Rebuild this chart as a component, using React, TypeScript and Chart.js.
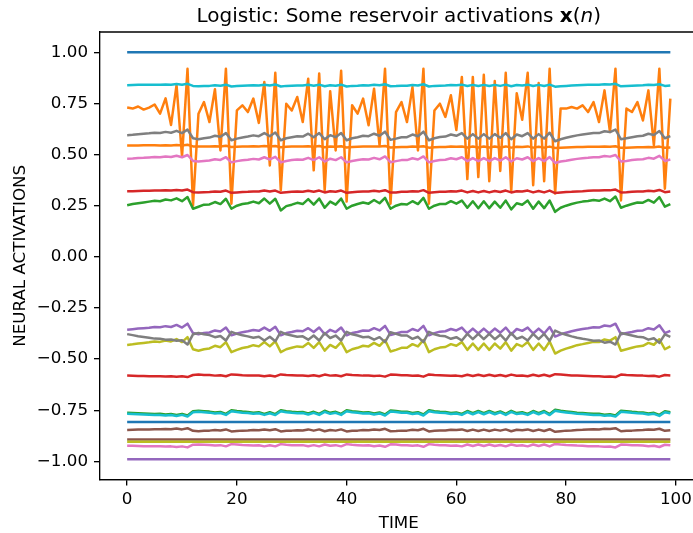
import React, { useEffect, useRef } from "react";
import { Chart, registerables } from "chart.js";
Chart.register(...registerables);

const TIME = [
  0, 1, 2, 3, 4, 5, 6, 7, 8, 9, 10, 11, 12, 13, 14, 15, 16, 17, 18, 19,
  20, 21, 22, 23, 24, 25, 26, 27, 28, 29, 30, 31, 32, 33, 34, 35, 36, 37, 38, 39,
  40, 41, 42, 43, 44, 45, 46, 47, 48, 49, 50, 51, 52, 53, 54, 55, 56, 57, 58, 59,
  60, 61, 62, 63, 64, 65, 66, 67, 68, 69, 70, 71, 72, 73, 74, 75, 76, 77, 78, 79,
  80, 81, 82, 83, 84, 85, 86, 87, 88, 89, 90, 91, 92, 93, 94, 95, 96, 97, 98, 99,
];
const X_TICKS = [0, 20, 40, 60, 80, 100];
const Y_TICKS = [-1.0, -0.75, -0.5, -0.25, 0.0, 0.25, 0.5, 0.75, 1.0];

const B1 = [
  1, 1, 1, 1, 1, 1, 1, 1, 1, 1, 1, 1, 1, 1, 1, 1, 1, 1, 1, 1,
  1, 1, 1, 1, 1, 1, 1, 1, 1, 1, 1, 1, 1, 1, 1, 1, 1, 1, 1, 1,
  1, 1, 1, 1, 1, 1, 1, 1, 1, 1, 1, 1, 1, 1, 1, 1, 1, 1, 1, 1,
  1, 1, 1, 1, 1, 1, 1, 1, 1, 1, 1, 1, 1, 1, 1, 1, 1, 1, 1, 1,
  1, 1, 1, 1, 1, 1, 1, 1, 1, 1, 1, 1, 1, 1, 1, 1, 1, 1, 1, 1,
];
const O1 = [
  0.73, 0.725, 0.735, 0.72, 0.73, 0.745, 0.7, 0.775, 0.645, 0.84,
  0.49, 0.92, 0.25, 0.7, 0.757, 0.659, 0.82, 0.52, 0.92, 0.26,
  0.716, 0.741, 0.708, 0.774, 0.655, 0.855, 0.447, 0.9, 0.325, 0.749,
  0.716, 0.782, 0.659, 0.871, 0.423, 0.896, 0.325, 0.81, 0.52, 0.91,
  0.27, 0.741, 0.7, 0.774, 0.643, 0.822, 0.545, 0.92, 0.26, 0.708,
  0.757, 0.659, 0.83, 0.52, 0.92, 0.26, 0.716, 0.749, 0.684, 0.79,
  0.62, 0.88, 0.38, 0.88, 0.39, 0.89, 0.37, 0.86, 0.42, 0.9,
  0.32, 0.8, 0.67, 0.9, 0.35, 0.85, 0.37, 0.92, 0.31, 0.725,
  0.725, 0.733, 0.725, 0.741, 0.708, 0.757, 0.659, 0.814, 0.61, 0.92,
  0.276, 0.725, 0.708, 0.757, 0.667, 0.814, 0.545, 0.92, 0.333, 0.774,
];
const G1 = [
  0.252, 0.258, 0.262, 0.266, 0.27, 0.274, 0.272, 0.28, 0.276, 0.286,
  0.272, 0.292, 0.235, 0.245, 0.255, 0.256, 0.268, 0.258, 0.284, 0.235,
  0.25, 0.258, 0.262, 0.27, 0.262, 0.285, 0.26, 0.284, 0.227, 0.248,
  0.255, 0.264, 0.258, 0.282, 0.255, 0.285, 0.24, 0.27, 0.255, 0.285,
  0.235, 0.25, 0.258, 0.266, 0.26, 0.278, 0.262, 0.288, 0.235, 0.25,
  0.258, 0.256, 0.272, 0.258, 0.288, 0.235, 0.25, 0.258, 0.258, 0.272,
  0.26, 0.275, 0.24, 0.272, 0.238, 0.272, 0.238, 0.27, 0.24, 0.275,
  0.232, 0.262, 0.255, 0.275, 0.235, 0.27, 0.238, 0.275, 0.22, 0.24,
  0.25, 0.258, 0.265, 0.27, 0.273, 0.278, 0.274, 0.285, 0.272, 0.295,
  0.24, 0.25, 0.258, 0.266, 0.265, 0.278, 0.265, 0.292, 0.245, 0.258,
];
const R1 = [
  0.321, 0.321, 0.322, 0.323, 0.323, 0.324, 0.324, 0.325, 0.324, 0.327,
  0.324, 0.329, 0.316, 0.315, 0.316, 0.317, 0.32, 0.318, 0.324, 0.313,
  0.315, 0.317, 0.318, 0.32, 0.319, 0.324, 0.319, 0.324, 0.313, 0.316,
  0.318, 0.319, 0.318, 0.323, 0.318, 0.324, 0.315, 0.321, 0.318, 0.324,
  0.313, 0.316, 0.318, 0.32, 0.319, 0.323, 0.32, 0.326, 0.314, 0.315,
  0.318, 0.318, 0.321, 0.319, 0.326, 0.313, 0.316, 0.318, 0.318, 0.321,
  0.32, 0.324, 0.315, 0.322, 0.315, 0.322, 0.315, 0.322, 0.317, 0.324,
  0.315, 0.321, 0.319, 0.324, 0.315, 0.322, 0.315, 0.324, 0.312, 0.315,
  0.317, 0.318, 0.32, 0.321, 0.323, 0.324, 0.324, 0.326, 0.325, 0.329,
  0.315, 0.316, 0.318, 0.319, 0.32, 0.323, 0.321, 0.327, 0.316, 0.319,
];
const PU1 = [
  -0.357, -0.354, -0.351, -0.349, -0.347, -0.343, -0.344, -0.339, -0.343, -0.333,
  -0.346, -0.327, -0.373, -0.379, -0.373, -0.37, -0.36, -0.365, -0.346, -0.384,
  -0.375, -0.369, -0.364, -0.358, -0.362, -0.346, -0.362, -0.342, -0.384, -0.373,
  -0.368, -0.362, -0.364, -0.349, -0.368, -0.346, -0.379, -0.357, -0.368, -0.346,
  -0.384, -0.373, -0.368, -0.36, -0.362, -0.349, -0.36, -0.338, -0.382, -0.375,
  -0.368, -0.368, -0.353, -0.362, -0.338, -0.384, -0.373, -0.366, -0.364, -0.353,
  -0.36, -0.346, -0.375, -0.351, -0.375, -0.351, -0.375, -0.351, -0.371, -0.346,
  -0.379, -0.353, -0.362, -0.346, -0.375, -0.351, -0.375, -0.343, -0.39, -0.379,
  -0.371, -0.364, -0.358, -0.353, -0.349, -0.344, -0.346, -0.336, -0.34, -0.327,
  -0.379, -0.373, -0.368, -0.362, -0.36, -0.349, -0.355, -0.335, -0.373, -0.362,
];
const BR1 = [
  -0.847, -0.846, -0.845, -0.844, -0.844, -0.843, -0.843, -0.842, -0.843, -0.84,
  -0.844, -0.838, -0.851, -0.853, -0.851, -0.85, -0.847, -0.849, -0.844, -0.854,
  -0.852, -0.85, -0.849, -0.847, -0.848, -0.844, -0.848, -0.843, -0.854, -0.851,
  -0.85, -0.848, -0.849, -0.844, -0.85, -0.844, -0.853, -0.847, -0.85, -0.844,
  -0.854, -0.851, -0.85, -0.847, -0.848, -0.844, -0.847, -0.841, -0.853, -0.852,
  -0.85, -0.85, -0.846, -0.848, -0.841, -0.854, -0.851, -0.849, -0.849, -0.846,
  -0.847, -0.844, -0.852, -0.845, -0.852, -0.845, -0.852, -0.845, -0.85, -0.844,
  -0.853, -0.846, -0.848, -0.844, -0.852, -0.845, -0.852, -0.843, -0.856, -0.853,
  -0.85, -0.849, -0.847, -0.846, -0.844, -0.843, -0.844, -0.841, -0.842, -0.838,
  -0.853, -0.851, -0.85, -0.848, -0.847, -0.844, -0.846, -0.841, -0.851, -0.848,
];
const P1 = [
  0.48, 0.481, 0.483, 0.484, 0.486, 0.488, 0.487, 0.491, 0.488, 0.494,
  0.487, 0.498, 0.469, 0.466, 0.469, 0.471, 0.477, 0.474, 0.487, 0.462,
  0.468, 0.472, 0.475, 0.479, 0.476, 0.487, 0.476, 0.489, 0.462, 0.469,
  0.473, 0.476, 0.475, 0.484, 0.473, 0.487, 0.466, 0.48, 0.473, 0.487,
  0.462, 0.469, 0.473, 0.477, 0.476, 0.484, 0.477, 0.491, 0.463, 0.468,
  0.473, 0.473, 0.482, 0.476, 0.491, 0.462, 0.469, 0.473, 0.475, 0.482,
  0.477, 0.487, 0.468, 0.483, 0.468, 0.483, 0.468, 0.483, 0.47, 0.487,
  0.466, 0.482, 0.476, 0.487, 0.468, 0.483, 0.468, 0.488, 0.459, 0.466,
  0.47, 0.475, 0.479, 0.482, 0.484, 0.487, 0.487, 0.493, 0.49, 0.498,
  0.466, 0.469, 0.473, 0.476, 0.477, 0.484, 0.48, 0.494, 0.469, 0.476,
];
const GR1 = [
  0.595, 0.597, 0.6, 0.602, 0.604, 0.607, 0.606, 0.611, 0.607, 0.616,
  0.605, 0.622, 0.58, 0.575, 0.58, 0.583, 0.592, 0.587, 0.605, 0.57,
  0.578, 0.584, 0.588, 0.594, 0.59, 0.605, 0.59, 0.608, 0.57, 0.58,
  0.585, 0.59, 0.588, 0.602, 0.585, 0.605, 0.575, 0.595, 0.585, 0.605,
  0.57, 0.58, 0.585, 0.592, 0.59, 0.602, 0.592, 0.612, 0.572, 0.578,
  0.585, 0.585, 0.598, 0.59, 0.612, 0.57, 0.58, 0.586, 0.588, 0.598,
  0.592, 0.605, 0.578, 0.6, 0.578, 0.6, 0.578, 0.6, 0.582, 0.605,
  0.575, 0.598, 0.59, 0.605, 0.578, 0.6, 0.578, 0.607, 0.565, 0.575,
  0.582, 0.588, 0.594, 0.598, 0.602, 0.606, 0.605, 0.614, 0.61, 0.622,
  0.575, 0.58, 0.585, 0.59, 0.592, 0.602, 0.596, 0.615, 0.58, 0.59,
];
const OL1 = [
  -0.431, -0.428, -0.424, -0.421, -0.418, -0.414, -0.416, -0.409, -0.414, -0.402,
  -0.417, -0.393, -0.452, -0.459, -0.452, -0.448, -0.435, -0.442, -0.417, -0.466,
  -0.455, -0.446, -0.441, -0.432, -0.438, -0.417, -0.438, -0.413, -0.466, -0.452,
  -0.445, -0.438, -0.441, -0.421, -0.445, -0.417, -0.459, -0.431, -0.445, -0.417,
  -0.466, -0.452, -0.445, -0.435, -0.438, -0.421, -0.435, -0.407, -0.463, -0.455,
  -0.445, -0.445, -0.427, -0.438, -0.407, -0.466, -0.452, -0.444, -0.441, -0.427,
  -0.435, -0.417, -0.455, -0.424, -0.455, -0.424, -0.455, -0.424, -0.449, -0.417,
  -0.459, -0.427, -0.438, -0.417, -0.455, -0.424, -0.455, -0.414, -0.473, -0.459,
  -0.449, -0.441, -0.432, -0.427, -0.421, -0.416, -0.417, -0.404, -0.41, -0.393,
  -0.459, -0.452, -0.445, -0.438, -0.435, -0.421, -0.43, -0.403, -0.452, -0.438,
];
const C1 = [
  0.839, 0.84, 0.841, 0.841, 0.842, 0.842, 0.842, 0.843, 0.842, 0.845,
  0.842, 0.846, 0.836, 0.834, 0.836, 0.836, 0.839, 0.837, 0.842, 0.833,
  0.835, 0.837, 0.838, 0.839, 0.838, 0.842, 0.838, 0.843, 0.833, 0.836,
  0.837, 0.838, 0.838, 0.841, 0.837, 0.842, 0.834, 0.839, 0.837, 0.842,
  0.833, 0.836, 0.837, 0.839, 0.838, 0.841, 0.839, 0.844, 0.834, 0.835,
  0.837, 0.837, 0.84, 0.838, 0.844, 0.833, 0.836, 0.837, 0.838, 0.84,
  0.839, 0.842, 0.835, 0.841, 0.835, 0.841, 0.835, 0.841, 0.836, 0.842,
  0.834, 0.84, 0.838, 0.842, 0.835, 0.841, 0.835, 0.842, 0.832, 0.834,
  0.836, 0.838, 0.839, 0.84, 0.841, 0.842, 0.842, 0.844, 0.843, 0.846,
  0.834, 0.836, 0.837, 0.838, 0.839, 0.841, 0.84, 0.844, 0.836, 0.838,
];
const B2 = [
  -0.808, -0.808, -0.808, -0.808, -0.808, -0.808, -0.808, -0.808, -0.808, -0.808,
  -0.808, -0.808, -0.808, -0.808, -0.808, -0.808, -0.808, -0.808, -0.808, -0.808,
  -0.808, -0.808, -0.808, -0.808, -0.808, -0.808, -0.808, -0.808, -0.808, -0.808,
  -0.808, -0.808, -0.808, -0.808, -0.808, -0.808, -0.808, -0.808, -0.808, -0.808,
  -0.808, -0.808, -0.808, -0.808, -0.808, -0.808, -0.808, -0.808, -0.808, -0.808,
  -0.808, -0.808, -0.808, -0.808, -0.808, -0.808, -0.808, -0.808, -0.808, -0.808,
  -0.808, -0.808, -0.808, -0.808, -0.808, -0.808, -0.808, -0.808, -0.808, -0.808,
  -0.808, -0.808, -0.808, -0.808, -0.808, -0.808, -0.808, -0.808, -0.808, -0.808,
  -0.808, -0.808, -0.808, -0.808, -0.808, -0.808, -0.808, -0.808, -0.808, -0.808,
  -0.808, -0.808, -0.808, -0.808, -0.808, -0.808, -0.808, -0.808, -0.808, -0.808,
];
const O2 = [
  0.545, 0.545, 0.545, 0.546, 0.546, 0.546, 0.545, 0.546, 0.545, 0.547,
  0.544, 0.548, 0.54, 0.539, 0.54, 0.54, 0.541, 0.54, 0.543, 0.537,
  0.538, 0.539, 0.54, 0.541, 0.54, 0.542, 0.539, 0.542, 0.536, 0.538,
  0.539, 0.54, 0.539, 0.541, 0.538, 0.542, 0.536, 0.54, 0.538, 0.541,
  0.535, 0.537, 0.538, 0.539, 0.539, 0.54, 0.539, 0.542, 0.535, 0.536,
  0.537, 0.537, 0.539, 0.538, 0.541, 0.534, 0.536, 0.537, 0.537, 0.539,
  0.538, 0.54, 0.535, 0.539, 0.535, 0.539, 0.535, 0.539, 0.535, 0.54,
  0.534, 0.538, 0.537, 0.54, 0.534, 0.538, 0.534, 0.539, 0.532, 0.534,
  0.535, 0.536, 0.537, 0.537, 0.538, 0.538, 0.538, 0.539, 0.538, 0.541,
  0.533, 0.534, 0.535, 0.536, 0.536, 0.537, 0.536, 0.539, 0.533, 0.535,
];
const G2 = [
  -0.763, -0.764, -0.765, -0.766, -0.767, -0.769, -0.768, -0.771, -0.769, -0.773,
  -0.768, -0.776, -0.755, -0.753, -0.755, -0.757, -0.761, -0.759, -0.768, -0.75,
  -0.754, -0.757, -0.759, -0.762, -0.76, -0.768, -0.76, -0.769, -0.75, -0.755,
  -0.758, -0.76, -0.759, -0.766, -0.758, -0.768, -0.753, -0.763, -0.758, -0.768,
  -0.75, -0.755, -0.758, -0.761, -0.76, -0.766, -0.761, -0.771, -0.751, -0.754,
  -0.758, -0.758, -0.764, -0.76, -0.771, -0.75, -0.755, -0.758, -0.759, -0.764,
  -0.761, -0.768, -0.754, -0.765, -0.754, -0.765, -0.754, -0.765, -0.756, -0.768,
  -0.753, -0.764, -0.76, -0.768, -0.754, -0.765, -0.754, -0.769, -0.748, -0.753,
  -0.756, -0.759, -0.762, -0.764, -0.766, -0.768, -0.768, -0.772, -0.77, -0.776,
  -0.753, -0.755, -0.758, -0.76, -0.761, -0.766, -0.763, -0.773, -0.755, -0.76,
];
const R2 = [
  -0.581, -0.582, -0.583, -0.583, -0.584, -0.584, -0.584, -0.585, -0.584, -0.587,
  -0.584, -0.588, -0.578, -0.576, -0.578, -0.578, -0.581, -0.579, -0.584, -0.575,
  -0.577, -0.579, -0.58, -0.581, -0.58, -0.584, -0.58, -0.585, -0.575, -0.578,
  -0.579, -0.58, -0.58, -0.583, -0.579, -0.584, -0.576, -0.581, -0.579, -0.584,
  -0.575, -0.578, -0.579, -0.581, -0.58, -0.583, -0.581, -0.586, -0.576, -0.577,
  -0.579, -0.579, -0.582, -0.58, -0.586, -0.575, -0.578, -0.579, -0.58, -0.582,
  -0.581, -0.584, -0.577, -0.583, -0.577, -0.583, -0.577, -0.583, -0.578, -0.584,
  -0.576, -0.582, -0.58, -0.584, -0.577, -0.583, -0.577, -0.584, -0.574, -0.576,
  -0.578, -0.58, -0.581, -0.582, -0.583, -0.584, -0.584, -0.586, -0.585, -0.588,
  -0.576, -0.578, -0.579, -0.58, -0.581, -0.583, -0.582, -0.586, -0.578, -0.58,
];
const PU2 = [
  -0.99, -0.99, -0.99, -0.99, -0.99, -0.99, -0.99, -0.99, -0.99, -0.99,
  -0.99, -0.99, -0.99, -0.99, -0.99, -0.99, -0.99, -0.99, -0.99, -0.99,
  -0.99, -0.99, -0.99, -0.99, -0.99, -0.99, -0.99, -0.99, -0.99, -0.99,
  -0.99, -0.99, -0.99, -0.99, -0.99, -0.99, -0.99, -0.99, -0.99, -0.99,
  -0.99, -0.99, -0.99, -0.99, -0.99, -0.99, -0.99, -0.99, -0.99, -0.99,
  -0.99, -0.99, -0.99, -0.99, -0.99, -0.99, -0.99, -0.99, -0.99, -0.99,
  -0.99, -0.99, -0.99, -0.99, -0.99, -0.99, -0.99, -0.99, -0.99, -0.99,
  -0.99, -0.99, -0.99, -0.99, -0.99, -0.99, -0.99, -0.99, -0.99, -0.99,
  -0.99, -0.99, -0.99, -0.99, -0.99, -0.99, -0.99, -0.99, -0.99, -0.99,
  -0.99, -0.99, -0.99, -0.99, -0.99, -0.99, -0.99, -0.99, -0.99, -0.99,
];
const BR2 = [
  -0.893, -0.893, -0.893, -0.893, -0.893, -0.893, -0.893, -0.893, -0.893, -0.893,
  -0.893, -0.893, -0.893, -0.893, -0.893, -0.893, -0.893, -0.893, -0.893, -0.893,
  -0.893, -0.893, -0.893, -0.893, -0.893, -0.893, -0.893, -0.893, -0.893, -0.893,
  -0.893, -0.893, -0.893, -0.893, -0.893, -0.893, -0.893, -0.893, -0.893, -0.893,
  -0.893, -0.893, -0.893, -0.893, -0.893, -0.893, -0.893, -0.893, -0.893, -0.893,
  -0.893, -0.893, -0.893, -0.893, -0.893, -0.893, -0.893, -0.893, -0.893, -0.893,
  -0.893, -0.893, -0.893, -0.893, -0.893, -0.893, -0.893, -0.893, -0.893, -0.893,
  -0.893, -0.893, -0.893, -0.893, -0.893, -0.893, -0.893, -0.893, -0.893, -0.893,
  -0.893, -0.893, -0.893, -0.893, -0.893, -0.893, -0.893, -0.893, -0.893, -0.893,
  -0.893, -0.893, -0.893, -0.893, -0.893, -0.893, -0.893, -0.893, -0.893, -0.893,
];
const P2 = [
  -0.924, -0.924, -0.925, -0.926, -0.926, -0.927, -0.927, -0.928, -0.927, -0.93,
  -0.927, -0.932, -0.919, -0.918, -0.919, -0.92, -0.923, -0.921, -0.927, -0.916,
  -0.918, -0.92, -0.921, -0.923, -0.922, -0.927, -0.922, -0.927, -0.916, -0.919,
  -0.921, -0.922, -0.921, -0.926, -0.921, -0.927, -0.918, -0.924, -0.921, -0.927,
  -0.916, -0.919, -0.921, -0.923, -0.922, -0.926, -0.923, -0.929, -0.917, -0.918,
  -0.921, -0.921, -0.924, -0.922, -0.929, -0.916, -0.919, -0.921, -0.921, -0.924,
  -0.923, -0.927, -0.918, -0.925, -0.918, -0.925, -0.918, -0.925, -0.92, -0.927,
  -0.918, -0.924, -0.922, -0.927, -0.918, -0.925, -0.918, -0.927, -0.915, -0.918,
  -0.92, -0.921, -0.923, -0.924, -0.926, -0.927, -0.927, -0.929, -0.928, -0.932,
  -0.918, -0.919, -0.921, -0.922, -0.923, -0.926, -0.924, -0.93, -0.919, -0.922,
];
const GR2 = [
  -0.378, -0.383, -0.388, -0.392, -0.396, -0.4, -0.401, -0.405, -0.404, -0.41,
  -0.408, -0.429, -0.379, -0.373, -0.379, -0.383, -0.393, -0.387, -0.409, -0.367,
  -0.377, -0.384, -0.389, -0.396, -0.391, -0.409, -0.391, -0.413, -0.367, -0.379,
  -0.385, -0.391, -0.389, -0.405, -0.385, -0.409, -0.373, -0.397, -0.385, -0.409,
  -0.367, -0.379, -0.385, -0.393, -0.391, -0.405, -0.393, -0.417, -0.369, -0.377,
  -0.385, -0.385, -0.401, -0.391, -0.417, -0.367, -0.379, -0.386, -0.389, -0.401,
  -0.393, -0.409, -0.377, -0.403, -0.377, -0.403, -0.377, -0.403, -0.381, -0.409,
  -0.373, -0.401, -0.391, -0.409, -0.377, -0.403, -0.377, -0.411, -0.361, -0.373,
  -0.381, -0.389, -0.396, -0.401, -0.405, -0.41, -0.409, -0.42, -0.415, -0.429,
  -0.373, -0.379, -0.385, -0.391, -0.393, -0.405, -0.398, -0.421, -0.379, -0.391,
];
const OL2 = [
  -0.905, -0.905, -0.905, -0.905, -0.905, -0.905, -0.905, -0.905, -0.905, -0.905,
  -0.905, -0.905, -0.905, -0.905, -0.905, -0.905, -0.905, -0.905, -0.905, -0.905,
  -0.905, -0.905, -0.905, -0.905, -0.905, -0.905, -0.905, -0.905, -0.905, -0.905,
  -0.905, -0.905, -0.905, -0.905, -0.905, -0.905, -0.905, -0.905, -0.905, -0.905,
  -0.905, -0.905, -0.905, -0.905, -0.905, -0.905, -0.905, -0.905, -0.905, -0.905,
  -0.905, -0.905, -0.905, -0.905, -0.905, -0.905, -0.905, -0.905, -0.905, -0.905,
  -0.905, -0.905, -0.905, -0.905, -0.905, -0.905, -0.905, -0.905, -0.905, -0.905,
  -0.905, -0.905, -0.905, -0.905, -0.905, -0.905, -0.905, -0.905, -0.905, -0.905,
  -0.905, -0.905, -0.905, -0.905, -0.905, -0.905, -0.905, -0.905, -0.905, -0.905,
  -0.905, -0.905, -0.905, -0.905, -0.905, -0.905, -0.905, -0.905, -0.905, -0.905,
];
const C2 = [
  -0.768, -0.769, -0.77, -0.771, -0.772, -0.774, -0.773, -0.776, -0.774, -0.778,
  -0.773, -0.781, -0.76, -0.758, -0.76, -0.762, -0.766, -0.764, -0.773, -0.755,
  -0.759, -0.762, -0.764, -0.767, -0.765, -0.773, -0.765, -0.774, -0.755, -0.76,
  -0.763, -0.765, -0.764, -0.771, -0.763, -0.773, -0.758, -0.768, -0.763, -0.773,
  -0.755, -0.76, -0.763, -0.766, -0.765, -0.771, -0.766, -0.776, -0.756, -0.759,
  -0.763, -0.763, -0.769, -0.765, -0.776, -0.755, -0.76, -0.763, -0.764, -0.769,
  -0.766, -0.773, -0.759, -0.77, -0.759, -0.77, -0.759, -0.77, -0.761, -0.773,
  -0.758, -0.769, -0.765, -0.773, -0.759, -0.77, -0.759, -0.774, -0.753, -0.758,
  -0.761, -0.764, -0.767, -0.769, -0.771, -0.773, -0.773, -0.777, -0.775, -0.781,
  -0.758, -0.76, -0.763, -0.765, -0.766, -0.771, -0.768, -0.778, -0.76, -0.765,
];

const SERIES = [B1, O1, G1, R1, PU1, BR1, P1, GR1, OL1, C1, B2, O2, G2, R2, PU2, BR2, P2, GR2, OL2, C2];
const COLORS = ["#1f77b4", "#ff7f0e", "#2ca02c", "#d62728", "#9467bd", "#8c564b", "#e377c2", "#7f7f7f", "#bcbd22", "#17becf"];

const TITLE_MAIN = "Logistic: Some reservoir activations ";
const X_LABEL = "TIME";
const Y_LABEL = "NEURAL ACTIVATIONS";
const FONT = "'DejaVu Sans', sans-serif";

const W = 693;
const H = 533;
const CANVAS_W = 740;

const decorPlugin = {
  id: "decor",
  afterDraw(chart: any) {
    const { ctx, chartArea, scales } = chart;
    const xs = scales.x;
    const cx = xs.getPixelForValue(49.5);
    const lastX = xs.getPixelForValue(TIME[TIME.length - 1]);
    ctx.save();
    // clear the strip between the last sample and the right edge of the axes
    ctx.fillStyle = "#fff";
    ctx.fillRect(lastX + 8, chartArea.top + 1.5, CANVAS_W, chartArea.bottom - chartArea.top - 3);
    ctx.strokeStyle = "#000";
    ctx.lineWidth = 1.33;
    ctx.beginPath();
    ctx.moveTo(chartArea.left - 0.6, chartArea.top);
    ctx.lineTo(CANVAS_W, chartArea.top);
    ctx.stroke();
    ctx.beginPath();
    ctx.moveTo(chartArea.left - 0.6, chartArea.bottom);
    ctx.lineTo(CANVAS_W, chartArea.bottom);
    ctx.stroke();
    const parts = [
      { t: TITLE_MAIN, f: `20px ${FONT}` },
      { t: "x", f: `bold 20px ${FONT}` },
      { t: "(", f: `20px ${FONT}` },
      { t: "n", f: `italic 20px ${FONT}` },
      { t: ")", f: `20px ${FONT}` },
    ];
    let total = 0;
    const widths = parts.map((p) => {
      ctx.font = p.f;
      const w = ctx.measureText(p.t).width;
      total += w;
      return w;
    });
    let x = cx - total / 2;
    ctx.fillStyle = "#000";
    ctx.textBaseline = "alphabetic";
    ctx.textAlign = "left";
    parts.forEach((p, i) => {
      ctx.font = p.f;
      ctx.fillText(p.t, x, chartArea.top - 10);
      x += widths[i];
    });
    ctx.font = `16.7px ${FONT}`;
    ctx.textAlign = "center";
    ctx.fillText(X_LABEL, cx, 527.5);
    ctx.translate(24.5, (chartArea.top + chartArea.bottom) / 2);
    ctx.rotate(-Math.PI / 2);
    ctx.fillText(Y_LABEL, 0, 0);
    ctx.restore();
  },
};

function fmtY(v: number) {
  const s = Math.abs(v).toFixed(2);
  return v < 0 ? "\u2212" + s : s;
}

export default function App() {
  const ref = useRef<HTMLCanvasElement | null>(null);
  useEffect(() => {
    document.documentElement.style.overflow = "hidden";
    document.body.style.overflow = "hidden";
    document.body.style.margin = "0";
    if (!ref.current) return;
    const datasets = SERIES.map((vals, i) => ({
      label: "x" + i,
      data: vals.map((v, k) => ({ x: TIME[k], y: v })),
      borderColor: COLORS[i % 10],
      borderWidth: 2.5,
      pointRadius: 0,
      tension: 0,
      fill: false,
      borderJoinStyle: "round" as const,
    }));
    datasets.reverse();
    const chart = new Chart(ref.current, {
      type: "line",
      data: { datasets },
      options: {
        responsive: false,
        animation: false,
        devicePixelRatio: 1,
        layout: { padding: { top: 32, left: 0, right: CANVAS_W - 697.5, bottom: 0 } },
        plugins: { legend: { display: false }, title: { display: false }, tooltip: { enabled: false } },
        scales: {
          x: {
            type: "linear",
            min: -4.95,
            max: 103.95,
            afterBuildTicks: (scale: any) => {
              scale.ticks = X_TICKS.map((v) => ({ value: v }));
            },
            afterFit: (scale: any) => {
              scale.height = H - 479.6;
            },
            ticks: {
              color: "#000",
              font: { family: FONT, size: 16.7 },
              padding: 4,
              maxRotation: 0,
              callback: (v: any) => String(v),
            },
            grid: { drawOnChartArea: false, tickLength: 6, color: "#000", lineWidth: 1.33 },
            border: { display: true, color: "#000", width: 1.33 },
          },
          y: {
            type: "linear",
            min: -1.0895,
            max: 1.0995,
            afterBuildTicks: (scale: any) => {
              scale.ticks = Y_TICKS.map((v) => ({ value: v }));
            },
            afterFit: (scale: any) => {
              scale.width = 100;
            },
            ticks: {
              color: "#000",
              font: { family: FONT, size: 16.7 },
              padding: 6,
              callback: (v: any) => fmtY(Number(v)),
            },
            grid: { drawOnChartArea: false, tickLength: 6, color: "#000", lineWidth: 1.33 },
            border: { display: true, color: "#000", width: 1.33 },
          },
        },
      },
      plugins: [decorPlugin],
    });
    return () => chart.destroy();
  }, []);
  return (
    <div style={{ position: "fixed", left: 0, top: 0, width: W, height: H, overflow: "hidden", background: "#fff" }}>
      <canvas ref={ref} width={CANVAS_W} height={H} style={{ display: "block", width: CANVAS_W, height: H }} />
    </div>
  );
}
